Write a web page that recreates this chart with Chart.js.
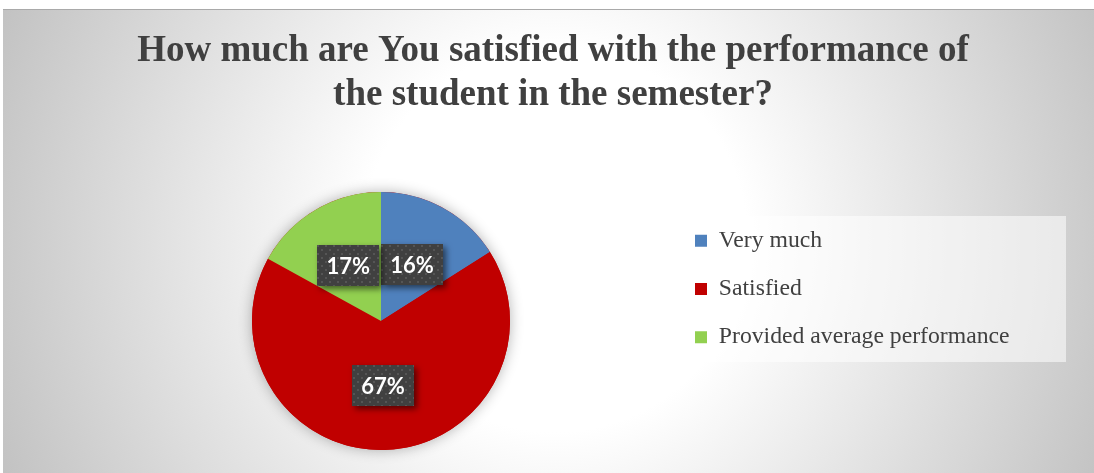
<!DOCTYPE html>
<html>
<head>
<meta charset="utf-8">
<title>Student performance satisfaction</title>
<script src="https://cdn.jsdelivr.net/npm/chart.js@4"></script>
<style>
  html, body { margin: 0; padding: 0; background: #fff; overflow: hidden; }
  #wrap { position: relative; width: 1094px; height: 473px; }
</style>
</head>
<body>
<div id="wrap"><canvas id="chart" width="1094" height="473"></canvas></div>
<script>
// Survey answers
const titleLines = ['How much are You satisfied with the performance of', 'the student in the semester?'];
const categories = ['Very much', 'Satisfied', 'Provided average performance'];
const shares = [16, 67, 17];
const sliceColors = ['#4f81bd', '#c00000', '#92d050'];

const serif = '"Liberation Serif", "Times New Roman", serif';

// Gray radial backdrop, top rule and the pale panel behind the legend
const backdrop = {
    id: 'backdrop',
    beforeDraw(chart) {
        const ctx = chart.ctx;
        const w = chart.width, h = chart.height;
        ctx.save();
        ctx.fillStyle = '#ffffff';
        ctx.fillRect(0, 0, w, h);
        const grad = ctx.createRadialGradient(555, 240, 0, 555, 240, 600);
        grad.addColorStop(0, '#ffffff');
        grad.addColorStop(0.32, '#ffffff');
        grad.addColorStop(1, '#c2c2c2');
        ctx.fillStyle = grad;
        ctx.fillRect(3, 9, w - 3, h - 9);
        ctx.fillStyle = '#a9a9a9';
        ctx.fillRect(3, 9, w - 3, 1);
        ctx.fillStyle = 'rgba(255,255,255,0.55)';
        ctx.fillRect(644, 216, 422, 146);
        ctx.restore();
    }
};

// Soft glow under the whole pie
const pieShadow = {
    id: 'pieShadow',
    beforeDatasetsDraw(chart) {
        const arc = chart.getDatasetMeta(0).data[0];
        if (!arc) return;
        const ctx = chart.ctx;
        ctx.save();
        ctx.shadowColor = 'rgba(0,0,0,0.3)';
        ctx.shadowBlur = 14;
        ctx.fillStyle = sliceColors[1];
        ctx.beginPath();
        ctx.arc(arc.x, arc.y, arc.outerRadius, 0, Math.PI * 2);
        ctx.fill();
        ctx.restore();
    }
};

// Dark dotted tag with the percentage on each slice
let dotPattern = null;
function getDotPattern(ctx) {
    if (dotPattern) return dotPattern;
    const tile = document.createElement('canvas');
    tile.width = 8; tile.height = 8;
    const t = tile.getContext('2d');
    t.fillStyle = '#404040';
    t.fillRect(0, 0, 8, 8);
    t.fillStyle = '#555555';
    t.fillRect(1, 1, 2, 2);
    t.fillRect(5, 5, 2, 2);
    dotPattern = ctx.createPattern(tile, 'repeat');
    return dotPattern;
}

const sliceTags = {
    id: 'sliceTags',
    afterDatasetsDraw(chart) {
        const ctx = chart.ctx;
        const meta = chart.getDatasetMeta(0);
        ctx.save();
        ctx.font = 'bold 22px Lato, "Open Sans", sans-serif';
        ctx.textAlign = 'center';
        ctx.textBaseline = 'middle';
        meta.data.forEach((arc, i) => {
            const pos = arc.tooltipPosition();
            const text = shares[i] + '%';
            const bw = Math.round(ctx.measureText(text).width + 18);
            const bh = 41;
            const x = Math.round(pos.x - bw / 2);
            const y = Math.round(pos.y - bh / 2);
            ctx.save();
            ctx.shadowColor = 'rgba(0,0,0,0.55)';
            ctx.shadowBlur = 6;
            ctx.shadowOffsetX = 3;
            ctx.shadowOffsetY = 3;
            ctx.fillStyle = getDotPattern(ctx);
            ctx.fillRect(x, y, bw, bh);
            ctx.restore();
            ctx.fillStyle = '#ffffff';
            ctx.fillText(text, pos.x, pos.y + 1);
        });
        ctx.restore();
    }
};

const ctx = document.getElementById('chart').getContext('2d');
new Chart(ctx, {
    type: 'pie',
    data: {
        labels: categories,
        datasets: [{
            data: shares,
            backgroundColor: sliceColors,
            borderWidth: 0,
            radius: 129,
            clip: false
        }]
    },
    options: {
        responsive: false,
        animation: false,
        layout: {
            padding: { left: 91.5, right: 79.5, top: 0, bottom: 35.5 }
        },
        plugins: {
            title: {
                display: true,
                text: titleLines,
                color: '#404040',
                font: { family: serif, size: 37, weight: 'bold', lineHeight: 1.2 },
                padding: { top: 29.3, bottom: 86.4 }
            },
            legend: {
                position: 'right',
                align: 'start',
                fullSize: false,
                maxWidth: 344,
                labels: {
                    boxWidth: 12,
                    boxHeight: 12,
                    padding: 24.5,
                    color: '#404040',
                    font: { family: serif, size: 23.7 }
                }
            },
            tooltip: { enabled: false }
        }
    },
    plugins: [backdrop, pieShadow, sliceTags]
});
</script>
</body>
</html>
